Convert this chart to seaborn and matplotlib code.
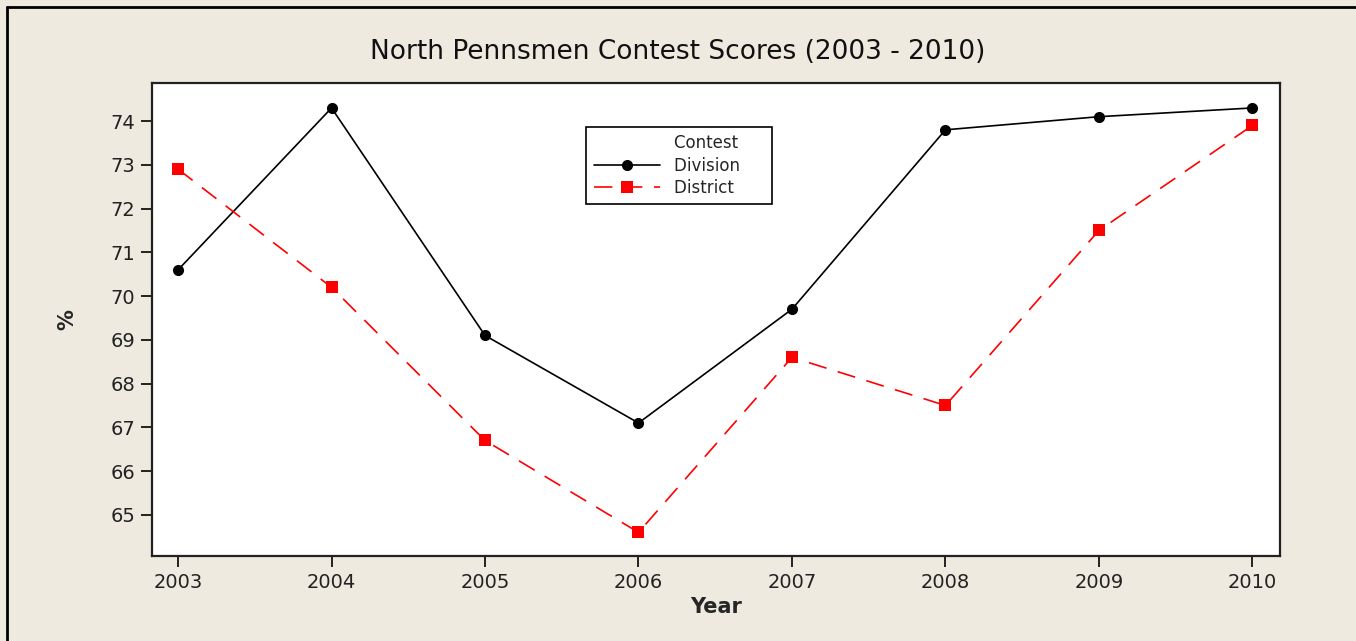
import numpy as np
import pandas as pd
import matplotlib
matplotlib.use("Agg")
import matplotlib.pyplot as plt
from matplotlib.lines import Line2D
import seaborn as sns

# ── Data ───────────────────────────────────────────────
YEARS = [2003, 2004, 2005, 2006, 2007, 2008, 2009, 2010]
DIVISION = [70.6, 74.3, 69.1, 67.1, 69.7, 73.8, 74.1, 74.3]
DISTRICT = [72.9, 70.2, 66.7, 64.6, 68.6, 67.5, 71.5, 73.9]
CONTESTS = ["Division", "District"]
Y_TICKS = [65, 66, 67, 68, 69, 70, 71, 72, 73, 74]

BG = "#EEEAE0"

df = pd.DataFrame({
    "Year": YEARS * 2,
    "Score": DIVISION + DISTRICT,
    "Contest": ["Division"] * len(YEARS) + ["District"] * len(YEARS),
})

# ── Style ──────────────────────────────────────────────
sns.set_style("ticks")
plt.rcParams.update({
    "font.family": "DejaVu Sans",
    "axes.edgecolor": "#222222",
    "axes.linewidth": 1.6,
    "xtick.color": "#222222",
    "ytick.color": "#222222",
})

fig = plt.figure(figsize=(13.56, 6.41), dpi=100, facecolor=BG)
ax = fig.add_axes([152 / 1356, 85 / 641, 1128 / 1356, 473 / 641])
ax.set_facecolor("white")

sns.lineplot(
    data=df, x="Year", y="Score", hue="Contest", style="Contest",
    hue_order=CONTESTS, style_order=CONTESTS,
    palette={"Division": "black", "District": "#FF0000"},
    markers={"Division": "o", "District": "s"},
    dashes={"Division": "", "District": (11, 7)},
    markersize=8, markeredgewidth=0, linewidth=1.2, ax=ax,
)

ax.set_xlim(2002.83, 2010.18)
ax.set_ylim(64.06, 74.87)
ax.set_xticks(YEARS)
ax.set_yticks(Y_TICKS)
ax.tick_params(axis="both", direction="out", length=8, width=1.4,
               labelsize=14, pad=4)
for side in ["top", "right", "left", "bottom"]:
    ax.spines[side].set_visible(True)

ax.set_xlabel("Year", fontsize=15, fontweight="bold", labelpad=4)
ax.set_ylabel("%", fontsize=15, fontweight="bold", labelpad=24)

# Legend: "Contest" header aligned with the label column
handles, labels = ax.get_legend_handles_labels()
keep = [(h, l) for h, l in zip(handles, labels) if l in CONTESTS]
h_list = [Line2D([], [], linestyle="none")] + [h for h, _ in keep]
l_list = [l.ljust(12) for l in ["Contest"] + [l for _, l in keep]]
leg = ax.legend(h_list, l_list, loc="upper left", bbox_to_anchor=(0.385, 0.907),
                borderaxespad=0, fontsize=12, frameon=True, fancybox=False,
                edgecolor="black", framealpha=1, handlelength=4,
                borderpad=0.45, labelspacing=0.25)
leg.get_frame().set_linewidth(1.2)

fig.text(0.5, 1 - 52 / 641, "North Pennsmen Contest Scores (2003 - 2010)",
         ha="center", va="center", fontsize=19, color="#111111")

# outer frame (left and top edges)
fig.add_artist(Line2D([7 / 1356, 7 / 1356], [0, 1 - 7 / 641], color="black",
                      linewidth=2, transform=fig.transFigure))
fig.add_artist(Line2D([7 / 1356, 1], [1 - 7 / 641, 1 - 7 / 641], color="black",
                      linewidth=2, transform=fig.transFigure))

fig.savefig("out.png", dpi=100, facecolor=BG)
